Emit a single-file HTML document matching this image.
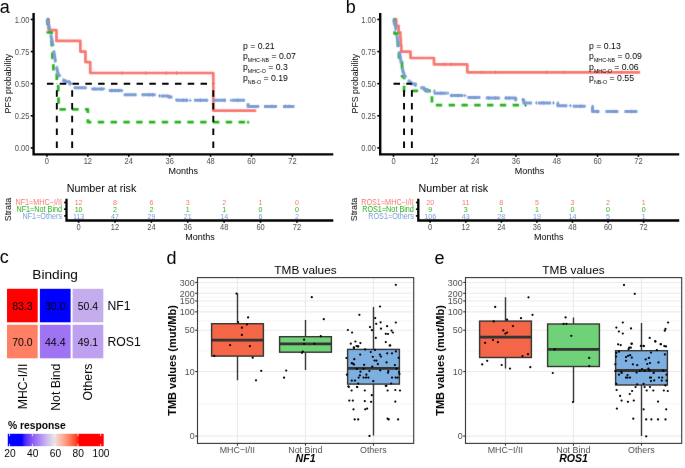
<!DOCTYPE html>
<html><head><meta charset="utf-8"><style>
html,body{margin:0;padding:0;background:#fff;}
svg{display:block;font-family:"Liberation Sans", sans-serif;will-change:transform;}
</style></head><body>
<svg width="685" height="468" viewBox="0 0 685 468">
<defs><filter id="soft" filterUnits="userSpaceOnUse" x="0" y="0" width="685" height="468" color-interpolation-filters="sRGB"><feConvolveMatrix order="3" kernelMatrix="0.0010 0.0313 0.0010 0.0313 1.0000 0.0313 0.0010 0.0313 0.0010" divisor="1.1293" edgeMode="duplicate"/></filter>
<filter id="soft2" filterUnits="userSpaceOnUse" x="0" y="0" width="685" height="468" color-interpolation-filters="sRGB"><feConvolveMatrix order="3" kernelMatrix="0.0183 0.1353 0.0183 0.1353 1.0000 0.1353 0.0183 0.1353 0.0183" divisor="1.6146" edgeMode="none" preserveAlpha="false"/></filter></defs>
<g filter="url(#soft)">
<rect width="685" height="468" fill="#fff"/>
<text x="-0.20" y="12.90" font-size="18" fill="#000">a</text>
<path d="M46.94,19.45 H48.64 V30.11 H56.48 V40.90 H80.35 V51.56 H85.46 V62.22 H90.23 V73.01 H213.30 V110.65 H256.25" fill="none" stroke="#F8766D" stroke-width="2.7" stroke-linejoin="round" filter="url(#soft2)"/>
<path d="M120.34,73.01 H123.54 M121.94,71.21 V74.81" stroke="#F8766D" stroke-width="0.9" fill="none"/>
<path d="M144.20,73.01 H147.40 M145.80,71.21 V74.81" stroke="#F8766D" stroke-width="0.9" fill="none"/>
<path d="M164.65,73.01 H167.85 M166.25,71.21 V74.81" stroke="#F8766D" stroke-width="0.9" fill="none"/>
<path d="M174.88,73.01 H178.08 M176.48,71.21 V74.81" stroke="#F8766D" stroke-width="0.9" fill="none"/>
<path d="M46.94,19.45 H47.62 V32.30 H51.71 V45.14 H52.39 V57.99 H53.41 V70.83 H56.82 V83.68 H58.19 V96.52 H58.53 V109.37 H87.85 V122.21 H249.10" fill="none" stroke="#25B21A" stroke-width="2.7" stroke-dasharray="6.4 6.4" stroke-linejoin="round" filter="url(#soft2)"/>
<path d="M246.47,122.21 H249.67 M248.07,120.41 V124.01" stroke="#25B21A" stroke-width="0.9" fill="none"/>
<path d="M46.94,19.45 H47.28 V20.73 H47.62 V22.02 H47.96 V23.30 H48.30 V24.59 H48.64 V25.87 H48.98 V27.16 H49.32 V28.44 H49.66 V29.73 H49.92 V31.01 H50.18 V32.30 H50.43 V33.58 H50.69 V34.86 H50.94 V36.15 H51.20 V37.43 H51.45 V38.72 H51.71 V40.00 H51.96 V41.29 H52.22 V42.57 H52.48 V43.86 H52.73 V45.14 H52.90 V46.21 H53.07 V47.28 H53.24 V48.35 H53.41 V49.42 H53.58 V50.49 H53.75 V51.56 H53.92 V52.66 H54.10 V53.76 H54.27 V54.87 H54.44 V55.97 H54.61 V57.07 H54.78 V58.17 H54.95 V59.27 H55.15 V60.34 H55.35 V61.41 H55.54 V62.48 H55.74 V63.55 H55.94 V64.62 H56.14 V65.69 H56.40 V66.98 H56.65 V68.26 H56.91 V69.55 H57.16 V70.83 H57.50 V72.11 H57.85 V73.40 H58.19 V74.68 H59.04 V75.97 H59.89 V77.25 H60.57 V78.54 H61.25 V79.82 H63.47 V80.78 H65.69 V81.75 H69.44 V83.03 H70.12 V84.19 H70.80 V85.34 H71.48 V86.50 H72.16 V87.66 H92.62 V88.94 H103.87 V90.10 H105.91 V90.61 H123.64 V94.72 H157.73 V95.88 H168.64 V96.91 H176.82 V100.37 H248.07 V106.41 H294.44" fill="none" stroke="#799BD6" stroke-width="3.0" stroke-dasharray="13 6" stroke-linejoin="round" filter="url(#soft2)"/>
<path d="M93.06,88.94 H96.26 M94.66,87.14 V90.74" stroke="#799BD6" stroke-width="0.9" fill="none"/>
<path d="M99.88,88.94 H103.08 M101.48,87.14 V90.74" stroke="#799BD6" stroke-width="0.9" fill="none"/>
<path d="M110.11,90.61 H113.31 M111.71,88.81 V92.41" stroke="#799BD6" stroke-width="0.9" fill="none"/>
<path d="M113.52,90.61 H116.72 M115.12,88.81 V92.41" stroke="#799BD6" stroke-width="0.9" fill="none"/>
<path d="M116.93,90.61 H120.13 M118.53,88.81 V92.41" stroke="#799BD6" stroke-width="0.9" fill="none"/>
<path d="M120.34,90.61 H123.54 M121.94,88.81 V92.41" stroke="#799BD6" stroke-width="0.9" fill="none"/>
<path d="M140.79,94.72 H143.99 M142.39,92.92 V96.52" stroke="#799BD6" stroke-width="0.9" fill="none"/>
<path d="M147.61,94.72 H150.81 M149.21,92.92 V96.52" stroke="#799BD6" stroke-width="0.9" fill="none"/>
<path d="M151.02,94.72 H154.22 M152.62,92.92 V96.52" stroke="#799BD6" stroke-width="0.9" fill="none"/>
<path d="M157.84,95.88 H161.04 M159.44,94.08 V97.68" stroke="#799BD6" stroke-width="0.9" fill="none"/>
<path d="M168.06,96.91 H171.26 M169.66,95.11 V98.71" stroke="#799BD6" stroke-width="0.9" fill="none"/>
<path d="M181.70,100.37 H184.90 M183.30,98.57 V102.17" stroke="#799BD6" stroke-width="0.9" fill="none"/>
<path d="M185.11,100.37 H188.31 M186.71,98.57 V102.17" stroke="#799BD6" stroke-width="0.9" fill="none"/>
<path d="M188.52,100.37 H191.72 M190.12,98.57 V102.17" stroke="#799BD6" stroke-width="0.9" fill="none"/>
<path d="M198.75,100.37 H201.95 M200.35,98.57 V102.17" stroke="#799BD6" stroke-width="0.9" fill="none"/>
<path d="M205.56,100.37 H208.76 M207.16,98.57 V102.17" stroke="#799BD6" stroke-width="0.9" fill="none"/>
<path d="M222.61,100.37 H225.81 M224.21,98.57 V102.17" stroke="#799BD6" stroke-width="0.9" fill="none"/>
<path d="M229.43,100.37 H232.63 M231.03,98.57 V102.17" stroke="#799BD6" stroke-width="0.9" fill="none"/>
<path d="M236.25,100.37 H239.45 M237.85,98.57 V102.17" stroke="#799BD6" stroke-width="0.9" fill="none"/>
<path d="M256.70,106.41 H259.90 M258.30,104.61 V108.21" stroke="#799BD6" stroke-width="0.9" fill="none"/>
<path d="M270.34,106.41 H273.54 M271.94,104.61 V108.21" stroke="#799BD6" stroke-width="0.9" fill="none"/>
<path d="M283.97,106.41 H287.17 M285.57,104.61 V108.21" stroke="#799BD6" stroke-width="0.9" fill="none"/>
<path d="M287.38,106.41 H290.58 M288.98,104.61 V108.21" stroke="#799BD6" stroke-width="0.9" fill="none"/>
<path d="M46.94,83.68 H213.30" stroke="#000" stroke-width="1.9" stroke-dasharray="6.5 6.3" fill="none"/>
<path d="M56.82,147.90 V83.68" stroke="#000" stroke-width="1.9" stroke-dasharray="6.5 6.3" fill="none"/>
<path d="M72.16,147.90 V83.68" stroke="#000" stroke-width="1.9" stroke-dasharray="6.5 6.3" fill="none"/>
<path d="M213.30,147.90 V83.68" stroke="#000" stroke-width="1.9" stroke-dasharray="6.5 6.3" fill="none"/>
<path d="M33.60,12.9 V154.4 H333.30" fill="none" stroke="#000" stroke-width="2.4"/>
<path d="M30.70,147.90 H33.30" stroke="#000" stroke-width="1.6"/>
<text transform="translate(29.30,151.20) scale(1,1.12)" font-size="7.5" fill="#4D4D4D" text-anchor="end">0.00</text>
<path d="M30.70,115.79 H33.30" stroke="#000" stroke-width="1.6"/>
<text transform="translate(29.30,119.09) scale(1,1.12)" font-size="7.5" fill="#4D4D4D" text-anchor="end">0.25</text>
<path d="M30.70,83.68 H33.30" stroke="#000" stroke-width="1.6"/>
<text transform="translate(29.30,86.98) scale(1,1.12)" font-size="7.5" fill="#4D4D4D" text-anchor="end">0.50</text>
<path d="M30.70,51.56 H33.30" stroke="#000" stroke-width="1.6"/>
<text transform="translate(29.30,54.86) scale(1,1.12)" font-size="7.5" fill="#4D4D4D" text-anchor="end">0.75</text>
<path d="M30.70,19.45 H33.30" stroke="#000" stroke-width="1.6"/>
<text transform="translate(29.30,22.75) scale(1,1.12)" font-size="7.5" fill="#4D4D4D" text-anchor="end">1.00</text>
<path d="M46.94,154.3 V156.8" stroke="#000" stroke-width="1.6"/>
<text transform="translate(46.94,163.70) scale(1,1.12)" font-size="7.5" fill="#4D4D4D" text-anchor="middle">0</text>
<path d="M87.85,154.3 V156.8" stroke="#000" stroke-width="1.6"/>
<text transform="translate(87.85,163.70) scale(1,1.12)" font-size="7.5" fill="#4D4D4D" text-anchor="middle">12</text>
<path d="M128.75,154.3 V156.8" stroke="#000" stroke-width="1.6"/>
<text transform="translate(128.75,163.70) scale(1,1.12)" font-size="7.5" fill="#4D4D4D" text-anchor="middle">24</text>
<path d="M169.66,154.3 V156.8" stroke="#000" stroke-width="1.6"/>
<text transform="translate(169.66,163.70) scale(1,1.12)" font-size="7.5" fill="#4D4D4D" text-anchor="middle">36</text>
<path d="M210.57,154.3 V156.8" stroke="#000" stroke-width="1.6"/>
<text transform="translate(210.57,163.70) scale(1,1.12)" font-size="7.5" fill="#4D4D4D" text-anchor="middle">48</text>
<path d="M251.48,154.3 V156.8" stroke="#000" stroke-width="1.6"/>
<text transform="translate(251.48,163.70) scale(1,1.12)" font-size="7.5" fill="#4D4D4D" text-anchor="middle">60</text>
<path d="M292.39,154.3 V156.8" stroke="#000" stroke-width="1.6"/>
<text transform="translate(292.39,163.70) scale(1,1.12)" font-size="7.5" fill="#4D4D4D" text-anchor="middle">72</text>
<text x="183.30" y="173.90" font-size="9.0" fill="#000" text-anchor="middle">Months</text>
<text transform="translate(11.20,83.60) rotate(-90)" font-size="8.8" fill="#000" text-anchor="middle">PFS probability</text>
<text x="243.00" y="49.00" font-size="8.7" fill="#000">p = 0.21</text>
<text x="243.00" y="59.30" font-size="8.7" fill="#000">p<tspan font-size="5.3" dy="2.9">MHC-NB</tspan><tspan dy="-2.9"> = 0.07</tspan></text>
<text x="243.00" y="70.00" font-size="8.7" fill="#000">p<tspan font-size="5.3" dy="2.9">MHC-O</tspan><tspan dy="-2.9"> = 0.3</tspan></text>
<text x="243.00" y="80.70" font-size="8.7" fill="#000">p<tspan font-size="5.3" dy="2.9">NB-O</tspan><tspan dy="-2.9"> = 0.19</tspan></text>
<text x="66.80" y="192.00" font-size="10.7" fill="#000">Number at risk</text>
<path d="M66.50,198.7 V220.5 H333.30" fill="none" stroke="#000" stroke-width="2.3"/>
<path d="M64.10,202.50 H66.50" stroke="#000" stroke-width="1.6"/>
<text transform="translate(62.10,205.30) scale(1,1.14)" font-size="7.25" fill="#F8766D" text-anchor="end">NF1=MHC&#8722;I/II</text>
<text transform="translate(78.63,205.30) scale(1,1.12)" font-size="7.1" fill="#F8766D" text-anchor="middle">12</text>
<text transform="translate(115.01,205.30) scale(1,1.12)" font-size="7.1" fill="#F8766D" text-anchor="middle">8</text>
<text transform="translate(151.39,205.30) scale(1,1.12)" font-size="7.1" fill="#F8766D" text-anchor="middle">6</text>
<text transform="translate(187.77,205.30) scale(1,1.12)" font-size="7.1" fill="#F8766D" text-anchor="middle">3</text>
<text transform="translate(224.15,205.30) scale(1,1.12)" font-size="7.1" fill="#F8766D" text-anchor="middle">2</text>
<text transform="translate(260.54,205.30) scale(1,1.12)" font-size="7.1" fill="#F8766D" text-anchor="middle">1</text>
<text transform="translate(296.92,205.30) scale(1,1.12)" font-size="7.1" fill="#F8766D" text-anchor="middle">0</text>
<path d="M64.10,209.20 H66.50" stroke="#000" stroke-width="1.6"/>
<text transform="translate(62.10,212.00) scale(1,1.14)" font-size="7.25" fill="#25B21A" text-anchor="end">NF1=Not Bind</text>
<text transform="translate(78.63,212.00) scale(1,1.12)" font-size="7.1" fill="#25B21A" text-anchor="middle">10</text>
<text transform="translate(115.01,212.00) scale(1,1.12)" font-size="7.1" fill="#25B21A" text-anchor="middle">2</text>
<text transform="translate(151.39,212.00) scale(1,1.12)" font-size="7.1" fill="#25B21A" text-anchor="middle">2</text>
<text transform="translate(187.77,212.00) scale(1,1.12)" font-size="7.1" fill="#25B21A" text-anchor="middle">1</text>
<text transform="translate(224.15,212.00) scale(1,1.12)" font-size="7.1" fill="#25B21A" text-anchor="middle">1</text>
<text transform="translate(260.54,212.00) scale(1,1.12)" font-size="7.1" fill="#25B21A" text-anchor="middle">0</text>
<text transform="translate(296.92,212.00) scale(1,1.12)" font-size="7.1" fill="#25B21A" text-anchor="middle">0</text>
<path d="M64.10,215.90 H66.50" stroke="#000" stroke-width="1.6"/>
<text transform="translate(62.10,218.70) scale(1,1.14)" font-size="7.25" fill="#799BD6" text-anchor="end">NF1=Others</text>
<text transform="translate(78.63,218.70) scale(1,1.12)" font-size="7.1" fill="#799BD6" text-anchor="middle">113</text>
<text transform="translate(115.01,218.70) scale(1,1.12)" font-size="7.1" fill="#799BD6" text-anchor="middle">47</text>
<text transform="translate(151.39,218.70) scale(1,1.12)" font-size="7.1" fill="#799BD6" text-anchor="middle">29</text>
<text transform="translate(187.77,218.70) scale(1,1.12)" font-size="7.1" fill="#799BD6" text-anchor="middle">21</text>
<text transform="translate(224.15,218.70) scale(1,1.12)" font-size="7.1" fill="#799BD6" text-anchor="middle">14</text>
<text transform="translate(260.54,218.70) scale(1,1.12)" font-size="7.1" fill="#799BD6" text-anchor="middle">6</text>
<text transform="translate(296.92,218.70) scale(1,1.12)" font-size="7.1" fill="#799BD6" text-anchor="middle">2</text>
<path d="M78.63,220.4 V222.8" stroke="#000" stroke-width="1.6"/>
<text transform="translate(78.63,229.90) scale(1,1.12)" font-size="7.5" fill="#4D4D4D" text-anchor="middle">0</text>
<path d="M115.01,220.4 V222.8" stroke="#000" stroke-width="1.6"/>
<text transform="translate(115.01,229.90) scale(1,1.12)" font-size="7.5" fill="#4D4D4D" text-anchor="middle">12</text>
<path d="M151.39,220.4 V222.8" stroke="#000" stroke-width="1.6"/>
<text transform="translate(151.39,229.90) scale(1,1.12)" font-size="7.5" fill="#4D4D4D" text-anchor="middle">24</text>
<path d="M187.77,220.4 V222.8" stroke="#000" stroke-width="1.6"/>
<text transform="translate(187.77,229.90) scale(1,1.12)" font-size="7.5" fill="#4D4D4D" text-anchor="middle">36</text>
<path d="M224.15,220.4 V222.8" stroke="#000" stroke-width="1.6"/>
<text transform="translate(224.15,229.90) scale(1,1.12)" font-size="7.5" fill="#4D4D4D" text-anchor="middle">48</text>
<path d="M260.54,220.4 V222.8" stroke="#000" stroke-width="1.6"/>
<text transform="translate(260.54,229.90) scale(1,1.12)" font-size="7.5" fill="#4D4D4D" text-anchor="middle">60</text>
<path d="M296.92,220.4 V222.8" stroke="#000" stroke-width="1.6"/>
<text transform="translate(296.92,229.90) scale(1,1.12)" font-size="7.5" fill="#4D4D4D" text-anchor="middle">72</text>
<text x="199.90" y="239.60" font-size="9.0" fill="#000" text-anchor="middle">Months</text>
<text transform="translate(11.20,209.50) rotate(-90) scale(1,1.1)" font-size="8.8" fill="#000" text-anchor="middle">Strata</text>
<text x="345.80" y="12.90" font-size="18" fill="#000">b</text>
<path d="M393.50,19.45 H396.23 V25.87 H398.61 V32.30 H400.31 V38.72 H400.82 V45.14 H401.33 V51.56 H410.51 V57.99 H433.98 V64.41 H467.31 V72.37 H640.09" fill="none" stroke="#F8766D" stroke-width="2.7" stroke-linejoin="round" filter="url(#soft2)"/>
<path d="M442.92,64.41 H446.12 M444.52,62.61 V66.21" stroke="#F8766D" stroke-width="0.9" fill="none"/>
<path d="M449.72,64.41 H452.92 M451.32,62.61 V66.21" stroke="#F8766D" stroke-width="0.9" fill="none"/>
<path d="M480.33,72.37 H483.53 M481.93,70.57 V74.17" stroke="#F8766D" stroke-width="0.9" fill="none"/>
<path d="M493.94,72.37 H497.14 M495.54,70.57 V74.17" stroke="#F8766D" stroke-width="0.9" fill="none"/>
<path d="M544.96,72.37 H548.16 M546.56,70.57 V74.17" stroke="#F8766D" stroke-width="0.9" fill="none"/>
<path d="M561.96,72.37 H565.16 M563.56,70.57 V74.17" stroke="#F8766D" stroke-width="0.9" fill="none"/>
<path d="M589.17,72.37 H592.37 M590.77,70.57 V74.17" stroke="#F8766D" stroke-width="0.9" fill="none"/>
<path d="M606.18,72.37 H609.38 M607.78,70.57 V74.17" stroke="#F8766D" stroke-width="0.9" fill="none"/>
<path d="M619.78,72.37 H622.98 M621.38,70.57 V74.17" stroke="#F8766D" stroke-width="0.9" fill="none"/>
<path d="M393.50,19.45 H394.52 V33.71 H397.93 V47.97 H398.95 V62.22 H402.01 V76.48 H404.05 V90.87 H431.94 V105.13 H525.47" fill="none" stroke="#25B21A" stroke-width="2.7" stroke-dasharray="6.4 6.4" stroke-linejoin="round" filter="url(#soft2)"/>
<path d="M523.87,105.13 H527.07 M525.47,103.33 V106.93" stroke="#25B21A" stroke-width="0.9" fill="none"/>
<path d="M393.50,19.45 H393.84 V20.73 H394.18 V22.02 H394.52 V23.30 H394.87 V24.59 H395.21 V25.87 H395.46 V27.16 H395.72 V28.44 H395.97 V29.73 H396.23 V31.01 H396.40 V32.30 H396.57 V33.58 H396.74 V34.86 H396.91 V36.15 H397.08 V37.22 H397.25 V38.29 H397.42 V39.36 H397.59 V40.43 H397.76 V41.50 H397.93 V42.57 H398.10 V43.64 H398.27 V44.71 H398.44 V45.78 H398.61 V46.85 H398.78 V47.92 H398.95 V48.99 H399.12 V50.12 H399.29 V51.24 H399.46 V52.37 H399.63 V53.49 H399.80 V54.61 H399.97 V55.74 H400.14 V56.86 H400.31 V57.99 H400.50 V59.09 H400.70 V60.19 H400.89 V61.29 H401.08 V62.39 H401.28 V63.49 H401.47 V64.59 H401.67 V65.69 H401.89 V66.76 H402.12 V67.83 H402.35 V68.90 H402.57 V69.97 H402.80 V71.04 H403.03 V72.11 H403.48 V73.40 H403.93 V74.68 H404.39 V75.97 H405.07 V77.04 H405.75 V78.11 H406.43 V79.18 H407.62 V80.46 H408.81 V81.75 H410.34 V82.90 H411.87 V84.06 H415.61 V85.60 H417.48 V86.63 H419.35 V87.66 H424.11 V89.46 H427.18 V91.00 H435.00 V93.18 H449.96 V95.62 H466.97 V97.55 H487.04 V98.06 H515.61 V99.86 H523.77 V102.94 H557.78 V105.64 H573.76 V106.28 H592.47 V111.55 H641.11" fill="none" stroke="#799BD6" stroke-width="3.0" stroke-dasharray="13 6" stroke-linejoin="round" filter="url(#soft2)"/>
<path d="M432.72,91.00 H435.92 M434.32,89.20 V92.80" stroke="#799BD6" stroke-width="0.9" fill="none"/>
<path d="M439.52,93.18 H442.72 M441.12,91.38 V94.98" stroke="#799BD6" stroke-width="0.9" fill="none"/>
<path d="M446.32,93.18 H449.52 M447.92,91.38 V94.98" stroke="#799BD6" stroke-width="0.9" fill="none"/>
<path d="M449.72,95.62 H452.92 M451.32,93.82 V97.42" stroke="#799BD6" stroke-width="0.9" fill="none"/>
<path d="M456.53,95.62 H459.73 M458.13,93.82 V97.42" stroke="#799BD6" stroke-width="0.9" fill="none"/>
<path d="M463.33,95.62 H466.53 M464.93,93.82 V97.42" stroke="#799BD6" stroke-width="0.9" fill="none"/>
<path d="M473.53,97.55 H476.73 M475.13,95.75 V99.35" stroke="#799BD6" stroke-width="0.9" fill="none"/>
<path d="M487.14,98.06 H490.34 M488.74,96.26 V99.86" stroke="#799BD6" stroke-width="0.9" fill="none"/>
<path d="M493.94,98.06 H497.14 M495.54,96.26 V99.86" stroke="#799BD6" stroke-width="0.9" fill="none"/>
<path d="M497.34,98.06 H500.54 M498.94,96.26 V99.86" stroke="#799BD6" stroke-width="0.9" fill="none"/>
<path d="M504.14,98.06 H507.34 M505.74,96.26 V99.86" stroke="#799BD6" stroke-width="0.9" fill="none"/>
<path d="M507.54,98.06 H510.74 M509.14,96.26 V99.86" stroke="#799BD6" stroke-width="0.9" fill="none"/>
<path d="M514.35,99.86 H517.55 M515.95,98.06 V101.66" stroke="#799BD6" stroke-width="0.9" fill="none"/>
<path d="M521.15,99.86 H524.35 M522.75,98.06 V101.66" stroke="#799BD6" stroke-width="0.9" fill="none"/>
<path d="M534.75,102.94 H537.95 M536.35,101.14 V104.74" stroke="#799BD6" stroke-width="0.9" fill="none"/>
<path d="M541.55,102.94 H544.75 M543.15,101.14 V104.74" stroke="#799BD6" stroke-width="0.9" fill="none"/>
<path d="M551.76,102.94 H554.96 M553.36,101.14 V104.74" stroke="#799BD6" stroke-width="0.9" fill="none"/>
<path d="M568.76,105.64 H571.96 M570.36,103.84 V107.44" stroke="#799BD6" stroke-width="0.9" fill="none"/>
<path d="M578.97,106.28 H582.17 M580.57,104.48 V108.08" stroke="#799BD6" stroke-width="0.9" fill="none"/>
<path d="M595.97,111.55 H599.17 M597.57,109.75 V113.35" stroke="#799BD6" stroke-width="0.9" fill="none"/>
<path d="M612.98,111.55 H616.18 M614.58,109.75 V113.35" stroke="#799BD6" stroke-width="0.9" fill="none"/>
<path d="M629.98,111.55 H633.18 M631.58,109.75 V113.35" stroke="#799BD6" stroke-width="0.9" fill="none"/>
<path d="M393.50,83.68 H411.87" stroke="#000" stroke-width="1.9" stroke-dasharray="6.5 6.3" fill="none"/>
<path d="M404.05,147.90 V83.68" stroke="#000" stroke-width="1.9" stroke-dasharray="6.5 6.3" fill="none"/>
<path d="M411.87,147.90 V83.68" stroke="#000" stroke-width="1.9" stroke-dasharray="6.5 6.3" fill="none"/>
<path d="M380.20,12.9 V154.4 H679.20" fill="none" stroke="#000" stroke-width="2.4"/>
<path d="M377.30,147.90 H379.90" stroke="#000" stroke-width="1.6"/>
<text transform="translate(375.90,151.20) scale(1,1.12)" font-size="7.5" fill="#4D4D4D" text-anchor="end">0.00</text>
<path d="M377.30,115.79 H379.90" stroke="#000" stroke-width="1.6"/>
<text transform="translate(375.90,119.09) scale(1,1.12)" font-size="7.5" fill="#4D4D4D" text-anchor="end">0.25</text>
<path d="M377.30,83.68 H379.90" stroke="#000" stroke-width="1.6"/>
<text transform="translate(375.90,86.98) scale(1,1.12)" font-size="7.5" fill="#4D4D4D" text-anchor="end">0.50</text>
<path d="M377.30,51.56 H379.90" stroke="#000" stroke-width="1.6"/>
<text transform="translate(375.90,54.86) scale(1,1.12)" font-size="7.5" fill="#4D4D4D" text-anchor="end">0.75</text>
<path d="M377.30,19.45 H379.90" stroke="#000" stroke-width="1.6"/>
<text transform="translate(375.90,22.75) scale(1,1.12)" font-size="7.5" fill="#4D4D4D" text-anchor="end">1.00</text>
<path d="M393.50,154.3 V156.8" stroke="#000" stroke-width="1.6"/>
<text transform="translate(393.50,163.70) scale(1,1.12)" font-size="7.5" fill="#4D4D4D" text-anchor="middle">0</text>
<path d="M434.32,154.3 V156.8" stroke="#000" stroke-width="1.6"/>
<text transform="translate(434.32,163.70) scale(1,1.12)" font-size="7.5" fill="#4D4D4D" text-anchor="middle">12</text>
<path d="M475.13,154.3 V156.8" stroke="#000" stroke-width="1.6"/>
<text transform="translate(475.13,163.70) scale(1,1.12)" font-size="7.5" fill="#4D4D4D" text-anchor="middle">24</text>
<path d="M515.95,154.3 V156.8" stroke="#000" stroke-width="1.6"/>
<text transform="translate(515.95,163.70) scale(1,1.12)" font-size="7.5" fill="#4D4D4D" text-anchor="middle">36</text>
<path d="M556.76,154.3 V156.8" stroke="#000" stroke-width="1.6"/>
<text transform="translate(556.76,163.70) scale(1,1.12)" font-size="7.5" fill="#4D4D4D" text-anchor="middle">48</text>
<path d="M597.57,154.3 V156.8" stroke="#000" stroke-width="1.6"/>
<text transform="translate(597.57,163.70) scale(1,1.12)" font-size="7.5" fill="#4D4D4D" text-anchor="middle">60</text>
<path d="M638.39,154.3 V156.8" stroke="#000" stroke-width="1.6"/>
<text transform="translate(638.39,163.70) scale(1,1.12)" font-size="7.5" fill="#4D4D4D" text-anchor="middle">72</text>
<text x="529.55" y="173.90" font-size="9.0" fill="#000" text-anchor="middle">Months</text>
<text transform="translate(357.80,83.60) rotate(-90)" font-size="8.8" fill="#000" text-anchor="middle">PFS probability</text>
<text x="589.10" y="49.00" font-size="8.7" fill="#000">p = 0.13</text>
<text x="589.10" y="59.30" font-size="8.7" fill="#000">p<tspan font-size="5.3" dy="2.9">MHC-NB</tspan><tspan dy="-2.9"> = 0.09</tspan></text>
<text x="589.10" y="70.00" font-size="8.7" fill="#000">p<tspan font-size="5.3" dy="2.9">MHC-O</tspan><tspan dy="-2.9"> = 0.06</tspan></text>
<text x="589.10" y="80.70" font-size="8.7" fill="#000">p<tspan font-size="5.3" dy="2.9">NB-O</tspan><tspan dy="-2.9"> = 0.55</tspan></text>
<text x="418.60" y="192.00" font-size="10.7" fill="#000">Number at risk</text>
<path d="M418.30,198.7 V220.5 H679.20" fill="none" stroke="#000" stroke-width="2.3"/>
<path d="M415.90,202.50 H418.30" stroke="#000" stroke-width="1.6"/>
<text transform="translate(413.90,205.30) scale(1,1.14)" font-size="7.25" fill="#F8766D" text-anchor="end">ROS1=MHC&#8722;I/II</text>
<text transform="translate(430.16,205.30) scale(1,1.12)" font-size="7.1" fill="#F8766D" text-anchor="middle">20</text>
<text transform="translate(465.74,205.30) scale(1,1.12)" font-size="7.1" fill="#F8766D" text-anchor="middle">11</text>
<text transform="translate(501.31,205.30) scale(1,1.12)" font-size="7.1" fill="#F8766D" text-anchor="middle">8</text>
<text transform="translate(536.89,205.30) scale(1,1.12)" font-size="7.1" fill="#F8766D" text-anchor="middle">5</text>
<text transform="translate(572.47,205.30) scale(1,1.12)" font-size="7.1" fill="#F8766D" text-anchor="middle">3</text>
<text transform="translate(608.05,205.30) scale(1,1.12)" font-size="7.1" fill="#F8766D" text-anchor="middle">2</text>
<text transform="translate(643.62,205.30) scale(1,1.12)" font-size="7.1" fill="#F8766D" text-anchor="middle">1</text>
<path d="M415.90,209.20 H418.30" stroke="#000" stroke-width="1.6"/>
<text transform="translate(413.90,212.00) scale(1,1.14)" font-size="7.25" fill="#25B21A" text-anchor="end">ROS1=Not Bind</text>
<text transform="translate(430.16,212.00) scale(1,1.12)" font-size="7.1" fill="#25B21A" text-anchor="middle">9</text>
<text transform="translate(465.74,212.00) scale(1,1.12)" font-size="7.1" fill="#25B21A" text-anchor="middle">3</text>
<text transform="translate(501.31,212.00) scale(1,1.12)" font-size="7.1" fill="#25B21A" text-anchor="middle">1</text>
<text transform="translate(536.89,212.00) scale(1,1.12)" font-size="7.1" fill="#25B21A" text-anchor="middle">1</text>
<text transform="translate(572.47,212.00) scale(1,1.12)" font-size="7.1" fill="#25B21A" text-anchor="middle">0</text>
<text transform="translate(608.05,212.00) scale(1,1.12)" font-size="7.1" fill="#25B21A" text-anchor="middle">0</text>
<text transform="translate(643.62,212.00) scale(1,1.12)" font-size="7.1" fill="#25B21A" text-anchor="middle">0</text>
<path d="M415.90,215.90 H418.30" stroke="#000" stroke-width="1.6"/>
<text transform="translate(413.90,218.70) scale(1,1.14)" font-size="7.25" fill="#799BD6" text-anchor="end">ROS1=Others</text>
<text transform="translate(430.16,218.70) scale(1,1.12)" font-size="7.1" fill="#799BD6" text-anchor="middle">106</text>
<text transform="translate(465.74,218.70) scale(1,1.12)" font-size="7.1" fill="#799BD6" text-anchor="middle">43</text>
<text transform="translate(501.31,218.70) scale(1,1.12)" font-size="7.1" fill="#799BD6" text-anchor="middle">28</text>
<text transform="translate(536.89,218.70) scale(1,1.12)" font-size="7.1" fill="#799BD6" text-anchor="middle">19</text>
<text transform="translate(572.47,218.70) scale(1,1.12)" font-size="7.1" fill="#799BD6" text-anchor="middle">14</text>
<text transform="translate(608.05,218.70) scale(1,1.12)" font-size="7.1" fill="#799BD6" text-anchor="middle">5</text>
<text transform="translate(643.62,218.70) scale(1,1.12)" font-size="7.1" fill="#799BD6" text-anchor="middle">1</text>
<path d="M430.16,220.4 V222.8" stroke="#000" stroke-width="1.6"/>
<text transform="translate(430.16,229.90) scale(1,1.12)" font-size="7.5" fill="#4D4D4D" text-anchor="middle">0</text>
<path d="M465.74,220.4 V222.8" stroke="#000" stroke-width="1.6"/>
<text transform="translate(465.74,229.90) scale(1,1.12)" font-size="7.5" fill="#4D4D4D" text-anchor="middle">12</text>
<path d="M501.31,220.4 V222.8" stroke="#000" stroke-width="1.6"/>
<text transform="translate(501.31,229.90) scale(1,1.12)" font-size="7.5" fill="#4D4D4D" text-anchor="middle">24</text>
<path d="M536.89,220.4 V222.8" stroke="#000" stroke-width="1.6"/>
<text transform="translate(536.89,229.90) scale(1,1.12)" font-size="7.5" fill="#4D4D4D" text-anchor="middle">36</text>
<path d="M572.47,220.4 V222.8" stroke="#000" stroke-width="1.6"/>
<text transform="translate(572.47,229.90) scale(1,1.12)" font-size="7.5" fill="#4D4D4D" text-anchor="middle">48</text>
<path d="M608.05,220.4 V222.8" stroke="#000" stroke-width="1.6"/>
<text transform="translate(608.05,229.90) scale(1,1.12)" font-size="7.5" fill="#4D4D4D" text-anchor="middle">60</text>
<path d="M643.62,220.4 V222.8" stroke="#000" stroke-width="1.6"/>
<text transform="translate(643.62,229.90) scale(1,1.12)" font-size="7.5" fill="#4D4D4D" text-anchor="middle">72</text>
<text x="548.75" y="239.60" font-size="9.0" fill="#000" text-anchor="middle">Months</text>
<text transform="translate(356.80,209.50) rotate(-90) scale(1,1.1)" font-size="8.8" fill="#000" text-anchor="middle">Strata</text>
<text x="-0.30" y="263.30" font-size="18" fill="#000">c</text>
<text x="55.10" y="278.90" font-size="13.7" fill="#000" text-anchor="middle">Binding</text>
<rect x="7.0" y="288.8" width="30.7" height="33.5" fill="#FF0000"/>
<text x="22.35" y="310.05" font-size="10.5" fill="#000" text-anchor="middle">83.3</text>
<rect x="39.9" y="288.8" width="30.7" height="33.5" fill="#0000FF"/>
<text x="55.25" y="310.05" font-size="10.5" fill="#000" text-anchor="middle">30.0</text>
<rect x="72.6" y="288.8" width="30.7" height="33.5" fill="#C5ACED"/>
<text x="87.95" y="310.05" font-size="10.5" fill="#000" text-anchor="middle">50.4</text>
<rect x="7.0" y="324.8" width="30.7" height="33.5" fill="#FF8064"/>
<text x="22.35" y="346.05" font-size="10.5" fill="#000" text-anchor="middle">70.0</text>
<rect x="39.9" y="324.8" width="30.7" height="33.5" fill="#9E74F3"/>
<text x="55.25" y="346.05" font-size="10.5" fill="#000" text-anchor="middle">44.4</text>
<rect x="72.6" y="324.8" width="30.7" height="33.5" fill="#BEA0F0"/>
<text x="87.95" y="346.05" font-size="10.5" fill="#000" text-anchor="middle">49.1</text>
<text x="107.50" y="309.70" font-size="12.2" fill="#000">NF1</text>
<text x="107.50" y="345.90" font-size="12.2" fill="#000">ROS1</text>
<text transform="translate(26.85,363.60) rotate(-90)" font-size="12.3" fill="#000" text-anchor="end">MHC-I/II</text>
<text transform="translate(59.75,363.60) rotate(-90)" font-size="12.3" fill="#000" text-anchor="end">Not Bind</text>
<text transform="translate(92.45,363.60) rotate(-90)" font-size="12.3" fill="#000" text-anchor="end">Others</text>
<text x="8.00" y="428.60" font-size="10.3" fill="#000" font-weight="bold">% response</text>
<defs><linearGradient id="lg" x1="0" x2="1" y1="0" y2="0">
<stop offset="0.000" stop-color="#0000FF"/>
<stop offset="0.149" stop-color="#0000FF"/>
<stop offset="0.167" stop-color="#371AFE"/>
<stop offset="0.185" stop-color="#4F2AFD"/>
<stop offset="0.203" stop-color="#6038FC"/>
<stop offset="0.221" stop-color="#6F44FB"/>
<stop offset="0.238" stop-color="#7B50FB"/>
<stop offset="0.256" stop-color="#875BF9"/>
<stop offset="0.274" stop-color="#9166F8"/>
<stop offset="0.292" stop-color="#9B71F7"/>
<stop offset="0.310" stop-color="#A47CF6"/>
<stop offset="0.328" stop-color="#AC87F5"/>
<stop offset="0.345" stop-color="#B492F3"/>
<stop offset="0.363" stop-color="#BB9DF2"/>
<stop offset="0.381" stop-color="#C3A8F0"/>
<stop offset="0.399" stop-color="#CAB3EF"/>
<stop offset="0.417" stop-color="#D0BEED"/>
<stop offset="0.434" stop-color="#D6C8EB"/>
<stop offset="0.452" stop-color="#DCD4E9"/>
<stop offset="0.470" stop-color="#E2DFE7"/>
<stop offset="0.488" stop-color="#E9E2E1"/>
<stop offset="0.506" stop-color="#EFD7D1"/>
<stop offset="0.523" stop-color="#F5CCC1"/>
<stop offset="0.541" stop-color="#F9C1B2"/>
<stop offset="0.559" stop-color="#FDB5A3"/>
<stop offset="0.577" stop-color="#FFAA94"/>
<stop offset="0.595" stop-color="#FF9E85"/>
<stop offset="0.612" stop-color="#FF9276"/>
<stop offset="0.630" stop-color="#FF8668"/>
<stop offset="0.648" stop-color="#FF7959"/>
<stop offset="0.666" stop-color="#FF6B4B"/>
<stop offset="0.684" stop-color="#FF5C3C"/>
<stop offset="0.702" stop-color="#FF4C2D"/>
<stop offset="0.719" stop-color="#FF371D"/>
<stop offset="0.737" stop-color="#FF1808"/>
<stop offset="0.743" stop-color="#FF0000"/>
<stop offset="0.992" stop-color="#FF0000"/>
</linearGradient></defs>
<rect x="7.8" y="433.8" width="95.9" height="12.4" fill="url(#lg)"/>
<path d="M9.60,433.8 v2.4 M9.60,446.2 v-2.4" stroke="#fff" stroke-width="0.8"/>
<text transform="translate(9.90,456.70) scale(1,1.06)" font-size="10.2" fill="#000" text-anchor="middle">20</text>
<path d="M32.38,433.8 v2.4 M32.38,446.2 v-2.4" stroke="#fff" stroke-width="0.8"/>
<text transform="translate(32.68,456.70) scale(1,1.06)" font-size="10.2" fill="#000" text-anchor="middle">40</text>
<path d="M55.16,433.8 v2.4 M55.16,446.2 v-2.4" stroke="#fff" stroke-width="0.8"/>
<text transform="translate(55.46,456.70) scale(1,1.06)" font-size="10.2" fill="#000" text-anchor="middle">60</text>
<path d="M77.94,433.8 v2.4 M77.94,446.2 v-2.4" stroke="#fff" stroke-width="0.8"/>
<text transform="translate(78.24,456.70) scale(1,1.06)" font-size="10.2" fill="#000" text-anchor="middle">80</text>
<path d="M100.72,433.8 v2.4 M100.72,446.2 v-2.4" stroke="#fff" stroke-width="0.8"/>
<text transform="translate(101.02,456.70) scale(1,1.06)" font-size="10.2" fill="#000" text-anchor="middle">100</text>
<text x="166.50" y="263.60" font-size="18" fill="#000">d</text>
<text x="305.50" y="273.70" font-size="11.8" fill="#000" text-anchor="middle">TMB values</text>
<path d="M197.5,403.82 H413.7" stroke="#EBEBEB" stroke-width="0.55"/>
<path d="M197.5,350.88 H413.7" stroke="#EBEBEB" stroke-width="0.55"/>
<path d="M197.5,321.03 H413.7" stroke="#EBEBEB" stroke-width="0.55"/>
<path d="M197.5,306.42 H413.7" stroke="#EBEBEB" stroke-width="0.55"/>
<path d="M197.5,297.15 H413.7" stroke="#EBEBEB" stroke-width="0.55"/>
<path d="M197.5,287.87 H413.7" stroke="#EBEBEB" stroke-width="0.55"/>
<path d="M197.5,436.10 H413.7" stroke="#EBEBEB" stroke-width="1.1"/>
<path d="M197.5,371.53 H413.7" stroke="#EBEBEB" stroke-width="1.1"/>
<path d="M197.5,330.23 H413.7" stroke="#EBEBEB" stroke-width="1.1"/>
<path d="M197.5,311.83 H413.7" stroke="#EBEBEB" stroke-width="1.1"/>
<path d="M197.5,301.00 H413.7" stroke="#EBEBEB" stroke-width="1.1"/>
<path d="M197.5,293.30 H413.7" stroke="#EBEBEB" stroke-width="1.1"/>
<path d="M197.5,282.43 H413.7" stroke="#EBEBEB" stroke-width="1.1"/>
<path d="M237.50,277.6 V443.4" stroke="#EBEBEB" stroke-width="1.1"/>
<path d="M305.50,277.6 V443.4" stroke="#EBEBEB" stroke-width="1.1"/>
<path d="M373.50,277.6 V443.4" stroke="#EBEBEB" stroke-width="1.1"/>
<path d="M237.50,293.60 V323.70 M237.50,356.10 V380.30" stroke="#333" stroke-width="1.4"/>
<rect x="211.60" y="323.70" width="51.8" height="32.40" fill="#F46647" stroke="#333" stroke-width="1.4"/>
<path d="M211.60,340.20 H263.40" stroke="#333" stroke-width="2.8"/>
<path d="M305.50,320.00 V336.70 M305.50,352.20 V370.00" stroke="#333" stroke-width="1.4"/>
<rect x="279.60" y="336.70" width="51.8" height="15.50" fill="#70D278" stroke="#333" stroke-width="1.4"/>
<path d="M279.60,343.90 H331.40" stroke="#333" stroke-width="2.8"/>
<path d="M373.50,306.90 V349.40 M373.50,384.10 V435.50" stroke="#333" stroke-width="1.4"/>
<rect x="347.60" y="349.40" width="51.8" height="34.70" fill="#7DAFE0" stroke="#333" stroke-width="1.4"/>
<path d="M347.60,368.30 H399.40" stroke="#333" stroke-width="2.8"/>
<circle cx="236.50" cy="293.60" r="1.12" fill="#000"/>
<circle cx="248.10" cy="317.40" r="1.12" fill="#000"/>
<circle cx="238.10" cy="322.00" r="1.12" fill="#000"/>
<circle cx="247.00" cy="324.40" r="1.12" fill="#000"/>
<circle cx="241.90" cy="327.70" r="1.12" fill="#000"/>
<circle cx="241.90" cy="334.90" r="1.12" fill="#000"/>
<circle cx="230.10" cy="345.10" r="1.12" fill="#000"/>
<circle cx="249.90" cy="346.20" r="1.12" fill="#000"/>
<circle cx="214.20" cy="355.90" r="1.12" fill="#000"/>
<circle cx="252.70" cy="357.70" r="1.12" fill="#000"/>
<circle cx="261.20" cy="370.80" r="1.12" fill="#000"/>
<circle cx="256.00" cy="380.30" r="1.12" fill="#000"/>
<circle cx="311.80" cy="297.20" r="1.12" fill="#000"/>
<circle cx="323.80" cy="319.20" r="1.12" fill="#000"/>
<circle cx="320.80" cy="336.20" r="1.12" fill="#000"/>
<circle cx="304.10" cy="339.70" r="1.12" fill="#000"/>
<circle cx="304.10" cy="343.80" r="1.12" fill="#000"/>
<circle cx="314.40" cy="343.80" r="1.12" fill="#000"/>
<circle cx="302.80" cy="351.50" r="1.12" fill="#000"/>
<circle cx="302.00" cy="352.80" r="1.12" fill="#000"/>
<circle cx="286.20" cy="370.50" r="1.12" fill="#000"/>
<circle cx="284.10" cy="377.70" r="1.12" fill="#000"/>
<circle cx="395.80" cy="284.80" r="1.12" fill="#000"/>
<circle cx="380.00" cy="306.50" r="1.12" fill="#000"/>
<circle cx="359.40" cy="314.80" r="1.12" fill="#000"/>
<circle cx="375.20" cy="318.10" r="1.12" fill="#000"/>
<circle cx="380.60" cy="322.30" r="1.12" fill="#000"/>
<circle cx="395.80" cy="322.50" r="1.12" fill="#000"/>
<circle cx="376.20" cy="323.80" r="1.12" fill="#000"/>
<circle cx="387.10" cy="326.20" r="1.12" fill="#000"/>
<circle cx="370.00" cy="327.10" r="1.12" fill="#000"/>
<circle cx="381.00" cy="328.70" r="1.12" fill="#000"/>
<circle cx="347.90" cy="330.00" r="1.12" fill="#000"/>
<circle cx="371.90" cy="330.20" r="1.12" fill="#000"/>
<circle cx="391.50" cy="330.60" r="1.12" fill="#000"/>
<circle cx="352.10" cy="332.50" r="1.12" fill="#000"/>
<circle cx="392.90" cy="332.50" r="1.12" fill="#000"/>
<circle cx="385.80" cy="333.80" r="1.12" fill="#000"/>
<circle cx="388.00" cy="334.00" r="1.12" fill="#000"/>
<circle cx="375.80" cy="337.90" r="1.12" fill="#000"/>
<circle cx="355.40" cy="341.50" r="1.12" fill="#000"/>
<circle cx="385.80" cy="342.10" r="1.12" fill="#000"/>
<circle cx="350.80" cy="343.70" r="1.12" fill="#000"/>
<circle cx="360.40" cy="343.10" r="1.12" fill="#000"/>
<circle cx="390.20" cy="345.40" r="1.12" fill="#000"/>
<circle cx="356.50" cy="346.00" r="1.12" fill="#000"/>
<circle cx="358.30" cy="346.30" r="1.12" fill="#000"/>
<circle cx="354.00" cy="347.90" r="1.12" fill="#000"/>
<circle cx="353.80" cy="347.40" r="1.12" fill="#000"/>
<circle cx="357.70" cy="346.40" r="1.12" fill="#000"/>
<circle cx="389.70" cy="345.50" r="1.12" fill="#000"/>
<circle cx="348.80" cy="387.00" r="1.12" fill="#000"/>
<circle cx="351.60" cy="390.50" r="1.12" fill="#000"/>
<circle cx="357.00" cy="387.00" r="1.12" fill="#000"/>
<circle cx="364.80" cy="390.50" r="1.12" fill="#000"/>
<circle cx="371.80" cy="395.20" r="1.12" fill="#000"/>
<circle cx="386.40" cy="385.80" r="1.12" fill="#000"/>
<circle cx="387.60" cy="390.50" r="1.12" fill="#000"/>
<circle cx="395.30" cy="390.00" r="1.12" fill="#000"/>
<circle cx="400.00" cy="390.50" r="1.12" fill="#000"/>
<circle cx="349.30" cy="400.60" r="1.12" fill="#000"/>
<circle cx="352.80" cy="400.60" r="1.12" fill="#000"/>
<circle cx="364.80" cy="401.10" r="1.12" fill="#000"/>
<circle cx="371.10" cy="401.80" r="1.12" fill="#000"/>
<circle cx="395.30" cy="401.60" r="1.12" fill="#000"/>
<circle cx="353.50" cy="409.30" r="1.12" fill="#000"/>
<circle cx="365.20" cy="409.30" r="1.12" fill="#000"/>
<circle cx="367.10" cy="408.60" r="1.12" fill="#000"/>
<circle cx="354.70" cy="419.40" r="1.12" fill="#000"/>
<circle cx="358.20" cy="419.40" r="1.12" fill="#000"/>
<circle cx="387.60" cy="418.70" r="1.12" fill="#000"/>
<circle cx="388.70" cy="419.40" r="1.12" fill="#000"/>
<circle cx="398.10" cy="419.40" r="1.12" fill="#000"/>
<circle cx="369.50" cy="435.90" r="1.12" fill="#000"/>
<circle cx="360.20" cy="354.60" r="1.12" fill="#000"/>
<circle cx="370.80" cy="352.00" r="1.12" fill="#000"/>
<circle cx="375.00" cy="349.90" r="1.12" fill="#000"/>
<circle cx="365.10" cy="349.40" r="1.12" fill="#000"/>
<circle cx="379.90" cy="354.60" r="1.12" fill="#000"/>
<circle cx="380.90" cy="356.60" r="1.12" fill="#000"/>
<circle cx="387.20" cy="353.30" r="1.12" fill="#000"/>
<circle cx="392.00" cy="353.30" r="1.12" fill="#000"/>
<circle cx="395.90" cy="351.40" r="1.12" fill="#000"/>
<circle cx="372.80" cy="356.80" r="1.12" fill="#000"/>
<circle cx="354.30" cy="359.20" r="1.12" fill="#000"/>
<circle cx="374.50" cy="360.50" r="1.12" fill="#000"/>
<circle cx="376.40" cy="360.70" r="1.12" fill="#000"/>
<circle cx="346.40" cy="358.00" r="1.12" fill="#000"/>
<circle cx="351.80" cy="363.20" r="1.12" fill="#000"/>
<circle cx="352.80" cy="363.60" r="1.12" fill="#000"/>
<circle cx="354.00" cy="364.40" r="1.12" fill="#000"/>
<circle cx="364.10" cy="364.80" r="1.12" fill="#000"/>
<circle cx="377.90" cy="364.10" r="1.12" fill="#000"/>
<circle cx="386.60" cy="362.40" r="1.12" fill="#000"/>
<circle cx="394.90" cy="365.10" r="1.12" fill="#000"/>
<circle cx="398.60" cy="357.80" r="1.12" fill="#000"/>
<circle cx="372.30" cy="366.60" r="1.12" fill="#000"/>
<circle cx="363.60" cy="368.80" r="1.12" fill="#000"/>
<circle cx="356.80" cy="368.80" r="1.12" fill="#000"/>
<circle cx="396.60" cy="368.80" r="1.12" fill="#000"/>
<circle cx="360.50" cy="371.70" r="1.12" fill="#000"/>
<circle cx="369.40" cy="371.00" r="1.12" fill="#000"/>
<circle cx="380.20" cy="370.30" r="1.12" fill="#000"/>
<circle cx="388.40" cy="371.00" r="1.12" fill="#000"/>
<circle cx="388.00" cy="372.70" r="1.12" fill="#000"/>
<circle cx="399.00" cy="372.00" r="1.12" fill="#000"/>
<circle cx="399.50" cy="374.00" r="1.12" fill="#000"/>
<circle cx="359.90" cy="375.30" r="1.12" fill="#000"/>
<circle cx="366.40" cy="374.70" r="1.12" fill="#000"/>
<circle cx="346.90" cy="374.70" r="1.12" fill="#000"/>
<circle cx="358.70" cy="377.60" r="1.12" fill="#000"/>
<circle cx="363.60" cy="377.60" r="1.12" fill="#000"/>
<circle cx="366.10" cy="377.60" r="1.12" fill="#000"/>
<circle cx="368.40" cy="377.60" r="1.12" fill="#000"/>
<circle cx="392.00" cy="377.60" r="1.12" fill="#000"/>
<circle cx="395.60" cy="377.60" r="1.12" fill="#000"/>
<circle cx="397.60" cy="377.60" r="1.12" fill="#000"/>
<circle cx="351.80" cy="380.60" r="1.12" fill="#000"/>
<circle cx="355.00" cy="380.60" r="1.12" fill="#000"/>
<circle cx="373.30" cy="381.20" r="1.12" fill="#000"/>
<circle cx="358.20" cy="383.50" r="1.12" fill="#000"/>
<circle cx="391.20" cy="383.50" r="1.12" fill="#000"/>
<circle cx="348.40" cy="386.30" r="1.12" fill="#000"/>
<circle cx="357.30" cy="387.00" r="1.12" fill="#000"/>
<circle cx="385.80" cy="385.80" r="1.12" fill="#000"/>
<rect x="197.5" y="277.6" width="216.2" height="165.79999999999995" fill="none" stroke="#333" stroke-width="1.1"/>
<path d="M195.2,436.10 H197.5" stroke="#333" stroke-width="1.1"/>
<text transform="translate(194.70,439.30) scale(1,1.1)" font-size="8.9" fill="#4D4D4D" text-anchor="end">0</text>
<path d="M195.2,371.53 H197.5" stroke="#333" stroke-width="1.1"/>
<text transform="translate(194.70,374.73) scale(1,1.1)" font-size="8.9" fill="#4D4D4D" text-anchor="end">10</text>
<path d="M195.2,330.23 H197.5" stroke="#333" stroke-width="1.1"/>
<text transform="translate(194.70,333.43) scale(1,1.1)" font-size="8.9" fill="#4D4D4D" text-anchor="end">50</text>
<path d="M195.2,311.83 H197.5" stroke="#333" stroke-width="1.1"/>
<text transform="translate(194.70,315.03) scale(1,1.1)" font-size="8.9" fill="#4D4D4D" text-anchor="end">100</text>
<path d="M195.2,301.00 H197.5" stroke="#333" stroke-width="1.1"/>
<text transform="translate(194.70,304.20) scale(1,1.1)" font-size="8.9" fill="#4D4D4D" text-anchor="end">150</text>
<path d="M195.2,293.30 H197.5" stroke="#333" stroke-width="1.1"/>
<text transform="translate(194.70,296.50) scale(1,1.1)" font-size="8.9" fill="#4D4D4D" text-anchor="end">200</text>
<path d="M195.2,282.43 H197.5" stroke="#333" stroke-width="1.1"/>
<text transform="translate(194.70,285.63) scale(1,1.1)" font-size="8.9" fill="#4D4D4D" text-anchor="end">300</text>
<path d="M237.50,443.4 V445.7" stroke="#333" stroke-width="1.1"/>
<text transform="translate(237.30,452.80) scale(1,1.08)" font-size="8.9" fill="#4D4D4D" text-anchor="middle">MHC&#8722;I/II</text>
<path d="M305.50,443.4 V445.7" stroke="#333" stroke-width="1.1"/>
<text transform="translate(305.30,452.80) scale(1,1.08)" font-size="8.9" fill="#4D4D4D" text-anchor="middle">Not Bind</text>
<path d="M373.50,443.4 V445.7" stroke="#333" stroke-width="1.1"/>
<text transform="translate(373.30,452.80) scale(1,1.08)" font-size="8.9" fill="#4D4D4D" text-anchor="middle">Others</text>
<text x="305.60" y="462.10" font-size="10.6" fill="#000" text-anchor="middle" font-weight="bold" font-style="italic">NF1</text>
<text transform="translate(176.40,360.50) rotate(-90)" font-size="11.0" fill="#000" text-anchor="middle" font-weight="bold">TMB values (mut/Mb)</text>
<text x="434.50" y="263.60" font-size="18" fill="#000">e</text>
<text x="573.50" y="273.70" font-size="11.8" fill="#000" text-anchor="middle">TMB values</text>
<path d="M465.5,403.82 H681.7" stroke="#EBEBEB" stroke-width="0.55"/>
<path d="M465.5,350.88 H681.7" stroke="#EBEBEB" stroke-width="0.55"/>
<path d="M465.5,321.03 H681.7" stroke="#EBEBEB" stroke-width="0.55"/>
<path d="M465.5,306.42 H681.7" stroke="#EBEBEB" stroke-width="0.55"/>
<path d="M465.5,297.15 H681.7" stroke="#EBEBEB" stroke-width="0.55"/>
<path d="M465.5,287.87 H681.7" stroke="#EBEBEB" stroke-width="0.55"/>
<path d="M465.5,436.10 H681.7" stroke="#EBEBEB" stroke-width="1.1"/>
<path d="M465.5,371.53 H681.7" stroke="#EBEBEB" stroke-width="1.1"/>
<path d="M465.5,330.23 H681.7" stroke="#EBEBEB" stroke-width="1.1"/>
<path d="M465.5,311.83 H681.7" stroke="#EBEBEB" stroke-width="1.1"/>
<path d="M465.5,301.00 H681.7" stroke="#EBEBEB" stroke-width="1.1"/>
<path d="M465.5,293.30 H681.7" stroke="#EBEBEB" stroke-width="1.1"/>
<path d="M465.5,282.43 H681.7" stroke="#EBEBEB" stroke-width="1.1"/>
<path d="M505.50,277.6 V443.4" stroke="#EBEBEB" stroke-width="1.1"/>
<path d="M573.50,277.6 V443.4" stroke="#EBEBEB" stroke-width="1.1"/>
<path d="M641.50,277.6 V443.4" stroke="#EBEBEB" stroke-width="1.1"/>
<path d="M505.50,297.30 V321.10 M505.50,357.50 V368.60" stroke="#333" stroke-width="1.4"/>
<rect x="479.60" y="321.10" width="51.8" height="36.40" fill="#F46647" stroke="#333" stroke-width="1.4"/>
<path d="M479.60,337.20 H531.40" stroke="#333" stroke-width="2.8"/>
<path d="M573.50,317.40 V324.00 M573.50,366.50 V402.00" stroke="#333" stroke-width="1.4"/>
<rect x="547.60" y="324.00" width="51.8" height="42.50" fill="#70D278" stroke="#333" stroke-width="1.4"/>
<path d="M547.60,349.30 H599.40" stroke="#333" stroke-width="2.8"/>
<path d="M641.50,323.00 V350.70 M641.50,385.00 V435.90" stroke="#333" stroke-width="1.4"/>
<rect x="615.60" y="350.70" width="51.8" height="34.30" fill="#7DAFE0" stroke="#333" stroke-width="1.4"/>
<path d="M615.60,370.50 H667.40" stroke="#333" stroke-width="2.8"/>
<circle cx="495.20" cy="306.90" r="1.12" fill="#000"/>
<circle cx="528.50" cy="297.30" r="1.12" fill="#000"/>
<circle cx="532.50" cy="314.80" r="1.12" fill="#000"/>
<circle cx="521.00" cy="318.20" r="1.12" fill="#000"/>
<circle cx="507.10" cy="319.70" r="1.12" fill="#000"/>
<circle cx="493.70" cy="321.40" r="1.12" fill="#000"/>
<circle cx="512.90" cy="326.10" r="1.12" fill="#000"/>
<circle cx="503.30" cy="330.40" r="1.12" fill="#000"/>
<circle cx="507.10" cy="332.50" r="1.12" fill="#000"/>
<circle cx="505.40" cy="333.60" r="1.12" fill="#000"/>
<circle cx="493.00" cy="340.00" r="1.12" fill="#000"/>
<circle cx="497.90" cy="342.20" r="1.12" fill="#000"/>
<circle cx="485.10" cy="342.80" r="1.12" fill="#000"/>
<circle cx="528.00" cy="354.20" r="1.12" fill="#000"/>
<circle cx="522.50" cy="356.10" r="1.12" fill="#000"/>
<circle cx="487.20" cy="360.80" r="1.12" fill="#000"/>
<circle cx="482.20" cy="364.40" r="1.12" fill="#000"/>
<circle cx="501.70" cy="365.00" r="1.12" fill="#000"/>
<circle cx="510.00" cy="368.60" r="1.12" fill="#000"/>
<circle cx="530.30" cy="367.20" r="1.12" fill="#000"/>
<circle cx="565.60" cy="317.40" r="1.12" fill="#000"/>
<circle cx="563.60" cy="323.80" r="1.12" fill="#000"/>
<circle cx="566.40" cy="323.80" r="1.12" fill="#000"/>
<circle cx="571.30" cy="335.80" r="1.12" fill="#000"/>
<circle cx="554.60" cy="349.40" r="1.12" fill="#000"/>
<circle cx="589.20" cy="357.90" r="1.12" fill="#000"/>
<circle cx="589.20" cy="366.10" r="1.12" fill="#000"/>
<circle cx="552.80" cy="373.00" r="1.12" fill="#000"/>
<circle cx="573.00" cy="402.00" r="1.12" fill="#000"/>
<circle cx="624.00" cy="284.90" r="1.12" fill="#000"/>
<circle cx="634.80" cy="293.80" r="1.12" fill="#000"/>
<circle cx="622.80" cy="322.50" r="1.12" fill="#000"/>
<circle cx="668.10" cy="322.50" r="1.12" fill="#000"/>
<circle cx="616.40" cy="327.60" r="1.12" fill="#000"/>
<circle cx="631.00" cy="328.40" r="1.12" fill="#000"/>
<circle cx="665.50" cy="328.90" r="1.12" fill="#000"/>
<circle cx="618.90" cy="331.50" r="1.12" fill="#000"/>
<circle cx="622.80" cy="333.50" r="1.12" fill="#000"/>
<circle cx="664.80" cy="330.70" r="1.12" fill="#000"/>
<circle cx="649.70" cy="337.90" r="1.12" fill="#000"/>
<circle cx="655.30" cy="341.20" r="1.12" fill="#000"/>
<circle cx="660.90" cy="344.30" r="1.12" fill="#000"/>
<circle cx="664.30" cy="346.10" r="1.12" fill="#000"/>
<circle cx="618.10" cy="344.30" r="1.12" fill="#000"/>
<circle cx="620.70" cy="345.10" r="1.12" fill="#000"/>
<circle cx="631.50" cy="343.80" r="1.12" fill="#000"/>
<circle cx="629.20" cy="347.60" r="1.12" fill="#000"/>
<circle cx="643.80" cy="346.10" r="1.12" fill="#000"/>
<circle cx="631.80" cy="343.70" r="1.12" fill="#000"/>
<circle cx="630.80" cy="347.70" r="1.12" fill="#000"/>
<circle cx="628.60" cy="349.10" r="1.12" fill="#000"/>
<circle cx="640.90" cy="345.90" r="1.12" fill="#000"/>
<circle cx="643.60" cy="345.90" r="1.12" fill="#000"/>
<circle cx="655.30" cy="341.60" r="1.12" fill="#000"/>
<circle cx="660.60" cy="344.10" r="1.12" fill="#000"/>
<circle cx="666.00" cy="346.40" r="1.12" fill="#000"/>
<circle cx="656.90" cy="350.10" r="1.12" fill="#000"/>
<circle cx="616.60" cy="390.00" r="1.12" fill="#000"/>
<circle cx="632.10" cy="391.00" r="1.12" fill="#000"/>
<circle cx="646.70" cy="390.50" r="1.12" fill="#000"/>
<circle cx="653.30" cy="390.50" r="1.12" fill="#000"/>
<circle cx="663.80" cy="390.50" r="1.12" fill="#000"/>
<circle cx="667.80" cy="391.00" r="1.12" fill="#000"/>
<circle cx="629.80" cy="394.00" r="1.12" fill="#000"/>
<circle cx="620.10" cy="395.90" r="1.12" fill="#000"/>
<circle cx="621.60" cy="400.60" r="1.12" fill="#000"/>
<circle cx="627.90" cy="401.80" r="1.12" fill="#000"/>
<circle cx="633.80" cy="400.60" r="1.12" fill="#000"/>
<circle cx="658.00" cy="401.60" r="1.12" fill="#000"/>
<circle cx="616.90" cy="408.60" r="1.12" fill="#000"/>
<circle cx="643.60" cy="409.30" r="1.12" fill="#000"/>
<circle cx="666.20" cy="409.30" r="1.12" fill="#000"/>
<circle cx="633.30" cy="418.70" r="1.12" fill="#000"/>
<circle cx="646.20" cy="419.40" r="1.12" fill="#000"/>
<circle cx="651.40" cy="419.40" r="1.12" fill="#000"/>
<circle cx="658.00" cy="419.40" r="1.12" fill="#000"/>
<circle cx="665.50" cy="419.40" r="1.12" fill="#000"/>
<circle cx="646.20" cy="436.30" r="1.12" fill="#000"/>
<circle cx="635.60" cy="387.00" r="1.12" fill="#000"/>
<circle cx="644.60" cy="387.00" r="1.12" fill="#000"/>
<circle cx="650.00" cy="387.00" r="1.12" fill="#000"/>
<circle cx="616.30" cy="352.80" r="1.12" fill="#000"/>
<circle cx="616.10" cy="356.50" r="1.12" fill="#000"/>
<circle cx="619.00" cy="351.70" r="1.12" fill="#000"/>
<circle cx="626.00" cy="357.10" r="1.12" fill="#000"/>
<circle cx="628.10" cy="355.80" r="1.12" fill="#000"/>
<circle cx="630.20" cy="355.20" r="1.12" fill="#000"/>
<circle cx="631.80" cy="357.60" r="1.12" fill="#000"/>
<circle cx="626.00" cy="360.80" r="1.12" fill="#000"/>
<circle cx="632.90" cy="364.30" r="1.12" fill="#000"/>
<circle cx="637.20" cy="365.10" r="1.12" fill="#000"/>
<circle cx="651.00" cy="352.60" r="1.12" fill="#000"/>
<circle cx="645.70" cy="359.40" r="1.12" fill="#000"/>
<circle cx="648.90" cy="357.90" r="1.12" fill="#000"/>
<circle cx="647.30" cy="364.00" r="1.12" fill="#000"/>
<circle cx="650.00" cy="363.00" r="1.12" fill="#000"/>
<circle cx="658.50" cy="362.40" r="1.12" fill="#000"/>
<circle cx="664.90" cy="354.40" r="1.12" fill="#000"/>
<circle cx="615.30" cy="364.30" r="1.12" fill="#000"/>
<circle cx="615.30" cy="371.00" r="1.12" fill="#000"/>
<circle cx="621.10" cy="371.80" r="1.12" fill="#000"/>
<circle cx="621.70" cy="372.90" r="1.12" fill="#000"/>
<circle cx="619.00" cy="374.70" r="1.12" fill="#000"/>
<circle cx="627.50" cy="375.00" r="1.12" fill="#000"/>
<circle cx="626.00" cy="377.60" r="1.12" fill="#000"/>
<circle cx="627.50" cy="377.60" r="1.12" fill="#000"/>
<circle cx="630.00" cy="377.60" r="1.12" fill="#000"/>
<circle cx="636.60" cy="372.60" r="1.12" fill="#000"/>
<circle cx="639.80" cy="371.00" r="1.12" fill="#000"/>
<circle cx="642.00" cy="369.00" r="1.12" fill="#000"/>
<circle cx="644.60" cy="371.00" r="1.12" fill="#000"/>
<circle cx="648.40" cy="368.60" r="1.12" fill="#000"/>
<circle cx="649.40" cy="370.40" r="1.12" fill="#000"/>
<circle cx="653.70" cy="372.90" r="1.12" fill="#000"/>
<circle cx="663.30" cy="370.70" r="1.12" fill="#000"/>
<circle cx="650.00" cy="377.60" r="1.12" fill="#000"/>
<circle cx="651.00" cy="377.60" r="1.12" fill="#000"/>
<circle cx="651.00" cy="381.10" r="1.12" fill="#000"/>
<circle cx="654.20" cy="380.40" r="1.12" fill="#000"/>
<circle cx="659.00" cy="377.60" r="1.12" fill="#000"/>
<circle cx="662.20" cy="377.60" r="1.12" fill="#000"/>
<circle cx="661.70" cy="380.60" r="1.12" fill="#000"/>
<circle cx="666.50" cy="374.70" r="1.12" fill="#000"/>
<circle cx="666.50" cy="380.60" r="1.12" fill="#000"/>
<circle cx="616.30" cy="383.80" r="1.12" fill="#000"/>
<circle cx="637.20" cy="384.30" r="1.12" fill="#000"/>
<circle cx="643.60" cy="383.80" r="1.12" fill="#000"/>
<circle cx="665.40" cy="385.40" r="1.12" fill="#000"/>
<rect x="465.5" y="277.6" width="216.20000000000005" height="165.79999999999995" fill="none" stroke="#333" stroke-width="1.1"/>
<path d="M463.2,436.10 H465.5" stroke="#333" stroke-width="1.1"/>
<text transform="translate(462.70,439.30) scale(1,1.1)" font-size="8.9" fill="#4D4D4D" text-anchor="end">0</text>
<path d="M463.2,371.53 H465.5" stroke="#333" stroke-width="1.1"/>
<text transform="translate(462.70,374.73) scale(1,1.1)" font-size="8.9" fill="#4D4D4D" text-anchor="end">10</text>
<path d="M463.2,330.23 H465.5" stroke="#333" stroke-width="1.1"/>
<text transform="translate(462.70,333.43) scale(1,1.1)" font-size="8.9" fill="#4D4D4D" text-anchor="end">50</text>
<path d="M463.2,311.83 H465.5" stroke="#333" stroke-width="1.1"/>
<text transform="translate(462.70,315.03) scale(1,1.1)" font-size="8.9" fill="#4D4D4D" text-anchor="end">100</text>
<path d="M463.2,301.00 H465.5" stroke="#333" stroke-width="1.1"/>
<text transform="translate(462.70,304.20) scale(1,1.1)" font-size="8.9" fill="#4D4D4D" text-anchor="end">150</text>
<path d="M463.2,293.30 H465.5" stroke="#333" stroke-width="1.1"/>
<text transform="translate(462.70,296.50) scale(1,1.1)" font-size="8.9" fill="#4D4D4D" text-anchor="end">200</text>
<path d="M463.2,282.43 H465.5" stroke="#333" stroke-width="1.1"/>
<text transform="translate(462.70,285.63) scale(1,1.1)" font-size="8.9" fill="#4D4D4D" text-anchor="end">300</text>
<path d="M505.50,443.4 V445.7" stroke="#333" stroke-width="1.1"/>
<text transform="translate(505.30,452.80) scale(1,1.08)" font-size="8.9" fill="#4D4D4D" text-anchor="middle">MHC&#8722;I/II</text>
<path d="M573.50,443.4 V445.7" stroke="#333" stroke-width="1.1"/>
<text transform="translate(573.30,452.80) scale(1,1.08)" font-size="8.9" fill="#4D4D4D" text-anchor="middle">Not Bind</text>
<path d="M641.50,443.4 V445.7" stroke="#333" stroke-width="1.1"/>
<text transform="translate(641.30,452.80) scale(1,1.08)" font-size="8.9" fill="#4D4D4D" text-anchor="middle">Others</text>
<text x="573.60" y="462.10" font-size="10.6" fill="#000" text-anchor="middle" font-weight="bold" font-style="italic">ROS1</text>
<text transform="translate(444.40,360.50) rotate(-90)" font-size="11.0" fill="#000" text-anchor="middle" font-weight="bold">TMB values (mut/Mb)</text>
</g>
</svg></body></html>
